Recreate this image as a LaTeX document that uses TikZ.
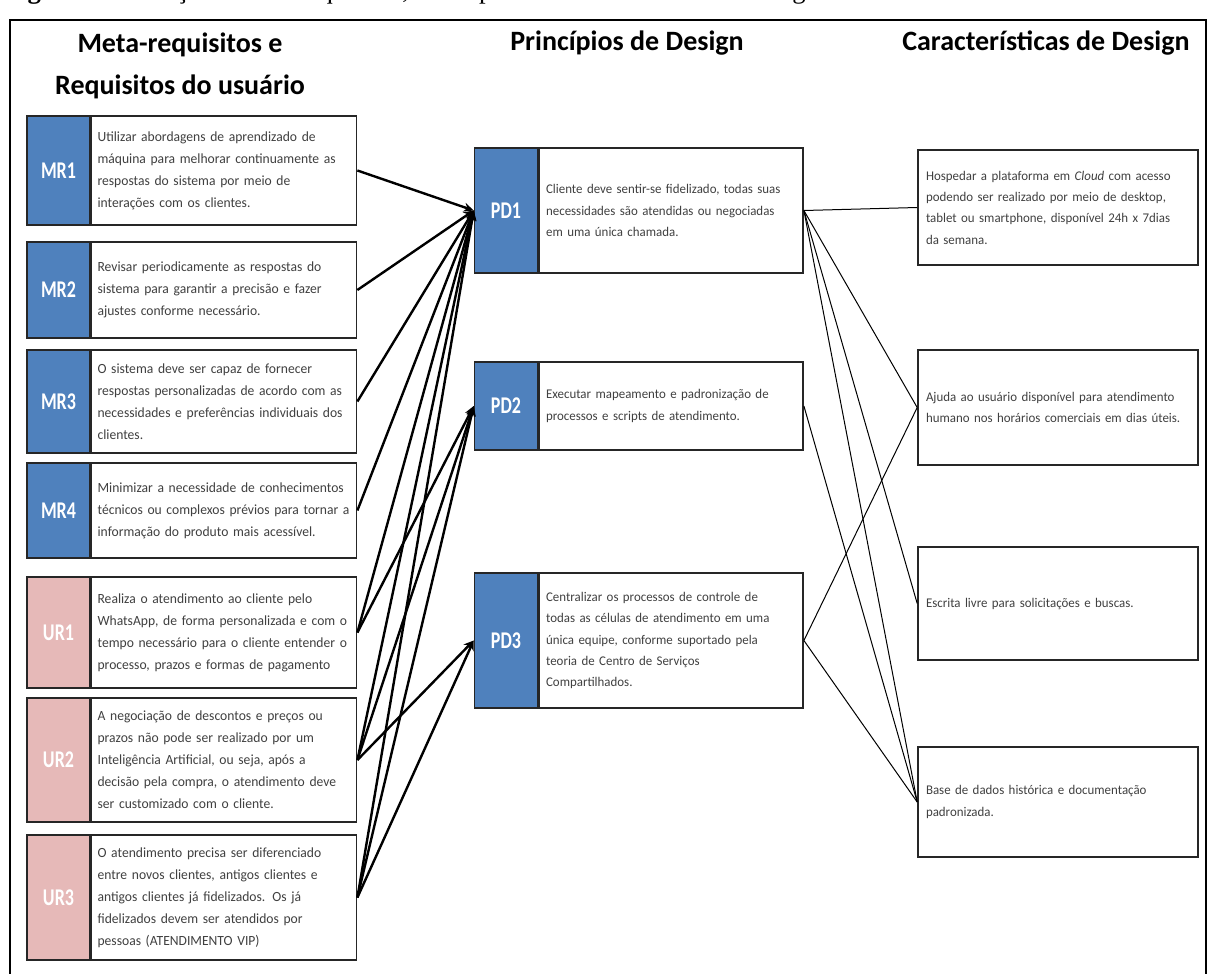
\documentclass[tikz,border=0pt]{standalone}
\usepackage{fontspec}
\setmainfont{Carlito}[FakeStretch=0.97]
\newfontfamily\headfont{Carlito}
\newfontfamily\labelfont{Carlito}[FakeStretch=0.75]
\newfontfamily\capfont{Liberation Serif}
\usetikzlibrary{positioning,arrows.meta}
\hyphenpenalty=10000
\definecolor{mrColor}{RGB}{79,129,189}
\definecolor{urColor}{RGB}{230,185,184}
\definecolor{textColor}{RGB}{64,64,64}
\definecolor{lineColor}{RGB}{38,38,38}
\tikzset{
  reqtag/.style={draw=lineColor,line width=1.6pt,minimum width=63pt,inner sep=0pt,
    text=white,font=\labelfont\bfseries\fontsize{24}{24}\selectfont},
  mrtag/.style={reqtag,fill=mrColor},
  urtag/.style={reqtag,fill=urColor},
  reqbox/.style={draw=lineColor,line width=1.6pt,fill=white,text=textColor,align=left,
    inner xsep=6pt,text width=253pt,font=\fontsize{14}{22}\selectfont},
  pdbox/.style={reqbox,inner xsep=7pt,text width=250pt,font=\fontsize{13.3}{21.3}\selectfont},
  cdbox/.style={pdbox,inner xsep=8pt,text width=264pt},
  heading/.style={text=black,align=center,font=\headfont\bfseries\fontsize{28}{42}\selectfont},
  link/.style={draw=black,line width=2.4pt,-{Stealth[length=10pt,width=9pt]}},
  feat/.style={draw=black,line width=1pt}
}
\begin{document}
\begin{tikzpicture}[x=1pt,y=-1pt]
\path[use as bounding box,fill=white] (0,0) rectangle (1210,974);

\begin{scope}
\clip (0,0) rectangle (1210,974);
\node[anchor=base west,inner sep=0pt,font=\capfont\fontsize{26.6}{26.6}\selectfont] (caption) at (3.7,-1) {\textbf{Figura 5 –} Relações entre Requisitos, Princípios e Características de Design};

\draw[line width=1.5pt] (10,20) rectangle (1206,990);
\end{scope}

\node[heading] (headReq) at (180,66) {Meta-requisitos e\\Requisitos do usuário};
\node[heading] (headPD) at (627,43) {Princípios de Design};
\node[heading] (headCD) at (1046,43) {Características de Design};

\node[mrtag,minimum height=109pt] (MR1) at (58.5,170.5) {MR1};
\node[reqbox,minimum height=109pt,right=0pt of MR1] (MR1t) {Utilizar abordagens de aprendizado de\\máquina para melhorar continuamente as\\respostas do sistema por meio de\\interações com os clientes.};

\node[mrtag,minimum height=96pt] (MR2) at (58.5,290) {MR2};
\node[reqbox,minimum height=96pt,right=0pt of MR2] (MR2t) {Revisar periodicamente as respostas do\\sistema para garantir a precisão e fazer\\ajustes conforme necessário.};

\node[mrtag,minimum height=103pt] (MR3) at (58.5,401.5) {MR3};
\node[reqbox,minimum height=103pt,right=0pt of MR3] (MR3t) {O sistema deve ser capaz de fornecer\\respostas personalizadas de acordo com as\\necessidades e preferências individuais dos\\clientes.};

\node[mrtag,minimum height=95pt] (MR4) at (58.5,510.5) {MR4};
\node[reqbox,minimum height=95pt,right=0pt of MR4] (MR4t) {Minimizar a necessidade de conhecimentos\\\mbox{técnicos ou complexos prévios para tornar a}\\informação do produto mais acessível.};

\node[urtag,minimum height=111pt] (UR1) at (58.5,632.5) {UR1};
\node[reqbox,minimum height=111pt,right=0pt of UR1] (UR1t) {Realiza o atendimento ao cliente pelo\\WhatsApp, de forma personalizada e com o\\tempo necessário para o cliente entender o\\processo, prazos e formas de pagamento};

\node[urtag,minimum height=124pt] (UR2) at (58.5,760) {UR2};
\node[reqbox,minimum height=124pt,right=0pt of UR2] (UR2t) {A negociação de descontos e preços ou\\prazos não pode ser realizado por um\\Inteligência Artificial, ou seja, após a\\decisão pela compra, o atendimento deve\\ser customizado com o cliente.};

\node[urtag,minimum height=125pt] (UR3) at (58.5,897.5) {UR3};
\node[reqbox,minimum height=125pt,right=0pt of UR3] (UR3t) {O atendimento precisa ser diferenciado\\entre novos clientes, antigos clientes e\\antigos clientes já fidelizados. Os já\\fidelizados devem ser atendidos por\\pessoas (ATENDIMENTO VIP)};

\node[mrtag,minimum height=125pt] (PD1) at (506,210.5) {PD1};
\node[pdbox,minimum height=125pt,right=0pt of PD1] (PD1t) {Cliente deve sentir-se fidelizado, todas suas\\necessidades são atendidas ou negociadas\\em uma única chamada.};

\node[mrtag,minimum height=88pt] (PD2) at (506,406) {PD2};
\node[pdbox,minimum height=88pt,right=0pt of PD2] (PD2t) {Executar mapeamento e padronização de\\processos e scripts de atendimento.};

\node[mrtag,minimum height=135pt] (PD3) at (506,640.5) {PD3};
\node[pdbox,minimum height=135pt,right=0pt of PD3] (PD3t) {Centralizar os processos de controle de\\todas as células de atendimento em uma\\única equipe, conforme suportado pela\\teoria de Centro de Serviços\\Compartilhados.};

\node[cdbox,minimum height=115pt] (CD1) at (1058,207.5) {Hospedar a plataforma em \textit{Cloud} com acesso\\podendo ser realizado por meio de desktop,\\tablet ou smartphone, disponível 24h x 7dias\\da semana.};

\node[cdbox,minimum height=115pt] (CD2) at (1058,407.5) {Ajuda ao usuário disponível para atendimento\\humano nos horários comerciais em dias úteis.};

\node[cdbox,minimum height=113pt] (CD3) at (1058,603.5) {Escrita livre para solicitações e buscas.};

\node[cdbox,minimum height=110pt] (CD4) at (1058,802) {Base de dados histórica e documentação\\padronizada.};

\draw[link] (MR1t.east) -- (PD1.west);
\draw[link] (MR2t.east) -- (PD1.west);
\draw[link] (MR3t.east) -- (PD1.west);
\draw[link] (MR4t.east) -- (PD1.west);
\draw[link] (UR1t.east) -- (PD1.west);
\draw[link] (UR1t.east) -- (PD2.west);
\draw[link] (UR2t.east) -- (PD1.west);
\draw[link] (UR2t.east) -- (PD2.west);
\draw[link] (UR2t.east) -- (PD3.west);
\draw[link] (UR3t.east) -- (PD1.west);
\draw[link] (UR3t.east) -- (PD2.west);
\draw[link] (UR3t.east) -- (PD3.west);

\draw[feat] (PD1t.east) -- (CD1.west);
\draw[feat] (PD1t.east) -- (CD2.west);
\draw[feat] (PD1t.east) -- (CD3.west);
\draw[feat] (PD1t.east) -- (CD4.west);
\draw[feat] (PD2t.east) -- (CD4.west);
\draw[feat] (PD3t.east) -- (CD2.west);
\draw[feat] (PD3t.east) -- (CD4.west);
\end{tikzpicture}
\end{document}
